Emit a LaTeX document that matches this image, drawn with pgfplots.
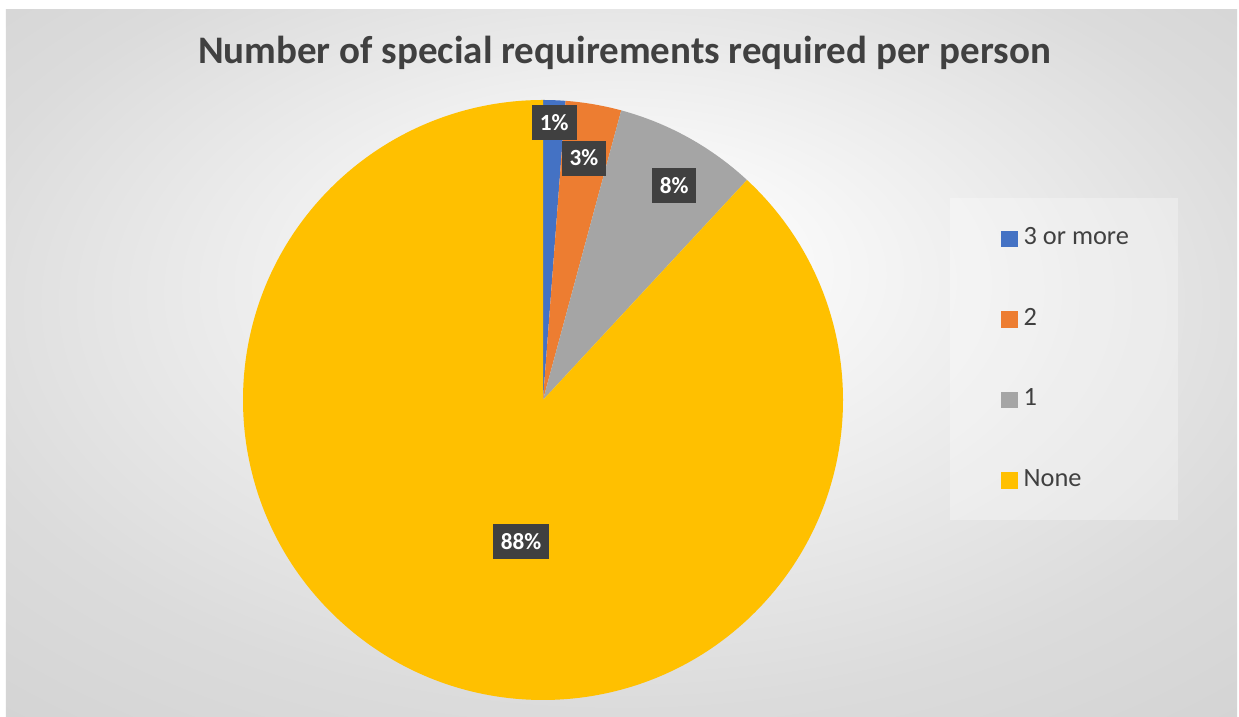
\documentclass[border=0pt]{standalone}
\usepackage{pgfplots}
\usepackage{pgfplotstable}
\pgfplotsset{compat=1.18}
\usepackage{fontspec}
\setmainfont{Carlito}

\definecolor{cBlue}{HTML}{4472C4}
\definecolor{cOrange}{HTML}{ED7D31}
\definecolor{cGrey}{HTML}{A5A5A5}
\definecolor{cGold}{HTML}{FFC000}
\definecolor{lblbg}{HTML}{404040}
\definecolor{txtgray}{HTML}{404040}

\pgfdeclareradialshading{bgshade}{\pgfpoint{0bp}{8bp}}{%
  color(0bp)=(white); color(8bp)=(white!97!black);
  color(28bp)=(white!86!black); color(50bp)=(white!79!black)}

% share of people (%), colour, label radius / angle
\pgfplotstableread[col sep=comma]{
name,value,col,lr,la
3 or more,1.2,cBlue,0.927,87.7
2,3.0,cOrange,0.818,80.4
1,7.7,cGrey,0.839,58.6
None,88.1,cGold,0.479,261.2
}\slices
\pgfplotstablecreatecol[create col/expr accum={\pgfmathaccuma + \thisrow{value}}{0}]{cum}\slices

\begin{document}
\begin{tikzpicture}[x=1cm,y=1cm,
  lbl/.style={fill=lblbg, text=white, font=\bfseries\fontsize{6.6}{7}\selectfont,
    inner xsep=0.08cm, inner ysep=0pt, minimum height=0.35cm}]
\useasboundingbox (0,0) rectangle (12.39,7.17);
\fill[white] (0,0) rectangle (12.39,7.17);
\shade[shading=bgshade] (0.06,0) rectangle (12.37,7.07);
\fill[white, opacity=0.3] (9.50,1.97) rectangle (11.78,5.19);

\node[font=\bfseries\fontsize{11.1}{13}\selectfont, text=txtgray] at (6.245,6.64)
  {Number of special requirements required per person};

\begin{axis}[
  at={(5.43cm,3.17cm)}, anchor=center,
  hide axis, x=3cm, y=3cm,
  xmin=-1, xmax=1, ymin=-1, ymax=1,
  clip=false,
  legend style={at={(axis description cs:1.245,0.812)}, anchor=north west,
    draw=none, fill=none, row sep=12.6pt,
    font=\fontsize{7.5}{9}\selectfont, text=txtgray,
    nodes={inner xsep=0.06cm}},
  legend cell align=left,
]
\pgfplotsinvokeforeach{0,...,3}{
  \pgfplotstablegetelem{#1}{value}\of\slices \let\vv\pgfplotsretval
  \pgfplotstablegetelem{#1}{cum}\of\slices \let\cu\pgfplotsretval
  \pgfplotstablegetelem{#1}{col}\of\slices \let\cc\pgfplotsretval
  \pgfmathsetmacro\aa{90-3.6*(\cu-\vv)}
  \pgfmathsetmacro\ab{90-3.6*\cu}
  \pgfmathsetmacro\xa{cos(\aa)}
  \pgfmathsetmacro\ya{sin(\aa)}
  \edef\temp{\noexpand\fill[\cc] (axis cs:0,0) -- (axis cs:\xa,\ya)
    arc[start angle=\aa, end angle=\ab, radius=3cm] -- cycle;}
  \temp
}
\pgfplotsinvokeforeach{0,...,3}{
  \pgfplotstablegetelem{#1}{value}\of\slices \let\vv\pgfplotsretval
  \pgfplotstablegetelem{#1}{lr}\of\slices \let\lr\pgfplotsretval
  \pgfplotstablegetelem{#1}{la}\of\slices \let\la\pgfplotsretval
  \pgfmathsetmacro\xl{\lr*cos(\la)}
  \pgfmathsetmacro\yl{\lr*sin(\la)}
  \pgfmathtruncatemacro\pct{round(\vv)}
  \edef\temp{\noexpand\node[lbl] at (axis cs:\xl,\yl) {\pct\noexpand\%};}
  \temp
}
\pgfplotsinvokeforeach{0,...,3}{
  \pgfplotstablegetelem{#1}{col}\of\slices \let\cc\pgfplotsretval
  \pgfplotstablegetelem{#1}{name}\of\slices \let\nm\pgfplotsretval
  \edef\temp{\noexpand\addlegendimage{legend image code/.code={\noexpand\fill[\cc] (0cm,-0.075cm) rectangle (0.15cm,0.075cm);}}
    \noexpand\addlegendentry{\nm}}
  \temp
}
\end{axis}
\end{tikzpicture}
\end{document}
